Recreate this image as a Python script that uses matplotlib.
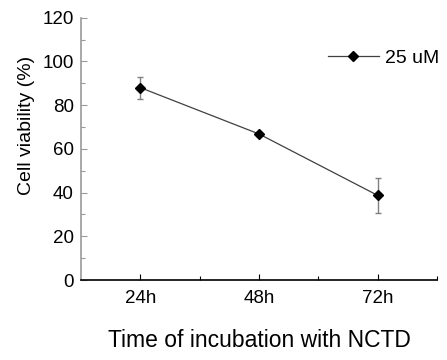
import matplotlib.pyplot as plt
from matplotlib.ticker import MultipleLocator

plt.rcParams["font.family"] = ["Liberation Sans", "DejaVu Sans"]

time_labels = ["24h", "48h", "72h"]
viability = [88.0, 66.8, 38.7]
viability_err = [5.0, 1.0, 7.8]
series_label = "25 uM"

fig = plt.figure(figsize=(4.47, 3.6), dpi=100)
ax = fig.add_axes([0.181, 0.222, 0.797, 0.729])

x = list(range(1, len(time_labels) + 1))
ax.errorbar(
    x, viability, yerr=viability_err,
    fmt="none", ecolor="#808080", elinewidth=1.0, capsize=2.5, capthick=1.0,
)
ax.plot(
    x, viability, color="#404040", linewidth=0.9,
    marker="D", markersize=5.5, markerfacecolor="black", markeredgecolor="black",
    label=series_label,
)

ax.set_xlim(0.5, 3.5)
ax.set_ylim(0, 120)
ax.set_xticks(x)
ax.set_xticklabels(time_labels)
ax.set_xticks([1.5, 2.5, 3.5], minor=True)
ax.yaxis.set_major_locator(MultipleLocator(20))
ax.yaxis.set_minor_locator(MultipleLocator(10))

ax.spines["top"].set_visible(False)
ax.spines["right"].set_visible(False)
ax.spines["left"].set_color("#999999")
ax.spines["left"].set_linewidth(1.2)
ax.spines["bottom"].set_color("black")
ax.spines["bottom"].set_linewidth(1.2)

ax.tick_params(axis="both", which="major", direction="in", length=4, width=0.8, labelsize=13.5)
ax.tick_params(axis="both", which="minor", direction="in", length=3, width=0.8)
ax.tick_params(axis="y", which="both", color="#999999", pad=5)
ax.tick_params(axis="x", which="both", color="black", pad=7)

ax.set_ylabel("Cell viability (%)", fontsize=14)
ax.yaxis.set_label_coords(-0.13, 0.588)
ax.set_xlabel("Time of incubation with NCTD", fontsize=16.5, labelpad=16)

ax.legend(
    loc="upper right", bbox_to_anchor=(1.045, 0.93), frameon=False,
    fontsize=14, handlelength=2.6, handletextpad=0.35, borderpad=0.2,
)

fig.savefig("out.png", dpi=100)
plt.close(fig)
